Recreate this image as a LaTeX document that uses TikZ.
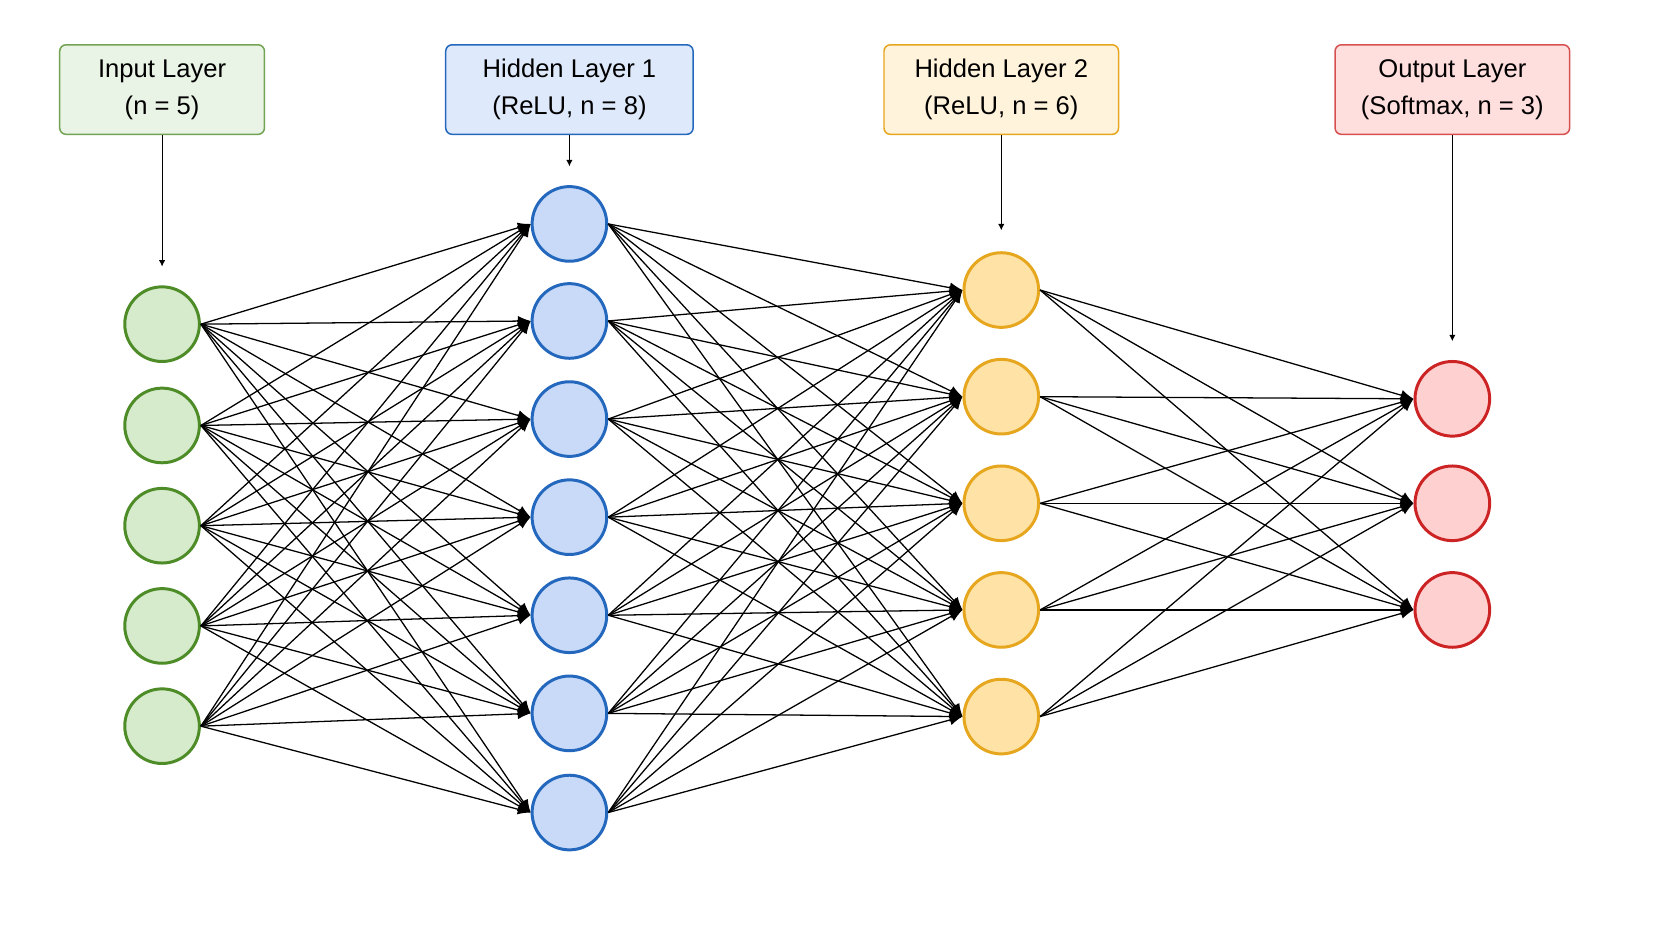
\documentclass[tikz,border=0pt]{standalone}
\usepackage{fontspec}
\setmainfont{Liberation Sans}
\usetikzlibrary{arrows.meta}
\definecolor{ingreen}{RGB}{78,140,40}
\definecolor{infill}{RGB}{214,234,204}
\definecolor{hblue}{RGB}{36,104,190}
\definecolor{hfill}{RGB}{200,218,248}
\definecolor{horange}{RGB}{230,166,30}
\definecolor{ofill}{RGB}{255,226,166}
\definecolor{outred}{RGB}{204,36,36}
\definecolor{rfill}{RGB}{255,208,208}
\tikzset{
  neuron/.style={circle,line width=1.4pt,minimum size=35pt,inner sep=0pt},
  layerbox/.style={rectangle,rounded corners=3pt,line width=0.7pt,align=center,
    minimum width=#1,minimum height=42pt,font=\large\linespread{1.25}\selectfont},
  link/.style={-{Latex[length=6pt,width=5pt]},line width=0.6pt},
  tag/.style={-{Latex[length=3pt,width=3pt]},line width=0.5pt}
}
\begin{document}
\begin{tikzpicture}[x=0.5pt,y=-0.5pt]
    \useasboundingbox (0,0) rectangle (1568,882);

    % layer boxes
    \node[layerbox=96pt,draw=ingreen!80,fill=infill!50] (boxin) at (152,84) {Input Layer\\(n = 5)};
    \node[layerbox=116pt,draw=hblue,fill=hfill!60] (boxh1) at (534,84) {Hidden Layer 1\\(ReLU, n = 8)};
    \node[layerbox=110pt,draw=horange,fill=ofill!40] (boxh2) at (939,84) {Hidden Layer 2\\(ReLU, n = 6)};
    \node[layerbox=110pt,draw=outred!80,fill=rfill!70] (boxout) at (1362,84) {Output Layer\\(Softmax, n = 3)};

    % neurons
    \foreach \y [count=\i] in {304,399,493,587,681}
        \node[neuron,draw=ingreen,fill=infill] (in\i) at (152,\y) {};
    \foreach \y [count=\i] in {210,301,393,485,577,669,762}
        \node[neuron,draw=hblue,fill=hfill] (ha\i) at (534,\y) {};
    \foreach \y [count=\i] in {272,372,472,572,672}
        \node[neuron,draw=horange,fill=ofill] (hb\i) at (939,\y) {};
    \foreach \y [count=\i] in {374,472,572}
        \node[neuron,draw=outred,fill=rfill] (out\i) at (1362,\y) {};

    % connections
    \foreach \i in {1,...,5}
        \foreach \j in {1,...,7}
            \draw[link] (in\i.east) -- (ha\j.west);
    \foreach \i in {1,...,7}
        \foreach \j in {1,...,5}
            \draw[link] (ha\i.east) -- (hb\j.west);
    \foreach \i in {1,...,5}
        \foreach \j in {1,...,3}
            \draw[link] (hb\i.east) -- (out\j.west);

    % labels to layers
    \coordinate (tin) at (152,250);
    \coordinate (th1) at (534,156);
    \coordinate (th2) at (939,216);
    \coordinate (tout) at (1362,320);
    \draw[tag] (boxin) -- (tin);
    \draw[tag] (boxh1) -- (th1);
    \draw[tag] (boxh2) -- (th2);
    \draw[tag] (boxout) -- (tout);
\end{tikzpicture}
\end{document}
